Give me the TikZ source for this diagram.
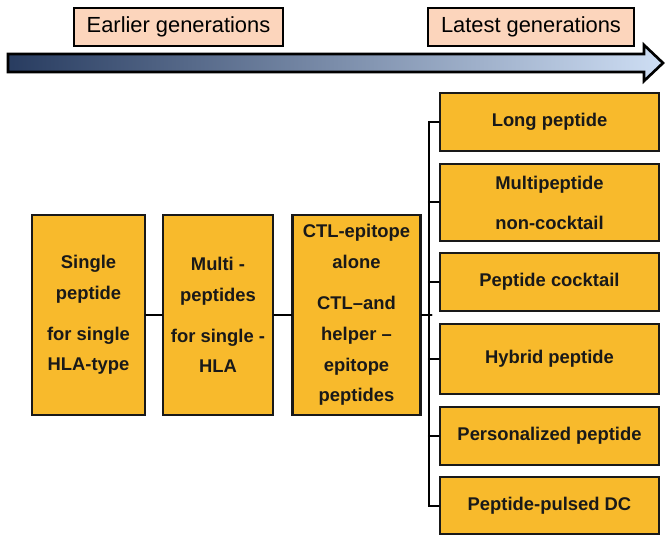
\documentclass[tikz,border=0pt]{standalone}
\usepackage{fontspec}
\setmainfont{Liberation Sans}
\usepackage{xcolor}
\usepackage{tikz}
\definecolor{gold}{RGB}{248,186,44}
\definecolor{peach}{RGB}{252,213,188}
\definecolor{navy}{RGB}{40,60,96}
\definecolor{skyblue}{RGB}{206,222,244}
\tikzstyle{gen} = [draw=black,line width=1.6pt,fill=peach,inner sep=0pt,minimum height=28.5pt,font=\fontsize{16.4}{20}\selectfont]
\tikzstyle{stage} = [draw=black!90,line width=1.8pt,fill=gold,inner sep=0pt,align=center,text=black!90,font=\bfseries\fontsize{13.8}{23}\selectfont]
\tikzstyle{kind} = [stage,minimum width=164.25pt]
\tikzstyle{link} = [line width=1.5pt]

\begin{document}
\begin{tikzpicture}[line cap=round,line join=miter,x=0.75pt,y=-0.75pt]
                \useasboundingbox (0,0) rectangle (667,538);
                \shade[left color=navy,right color=skyblue,draw=black,line width=2pt] (8,54) -- (644,54) -- (644,45) -- (663,63) -- (644,81) -- (644,72) -- (8,72) -- cycle;
                \node[gen,minimum width=156.75pt] (early) at (178.5,27) {Earlier generations};
                \node[gen,minimum width=154.5pt] (late) at (531,27) {Latest generations};
                \node[stage,minimum width=84.75pt,minimum height=150pt] (single) at (88.5,315) {Single\\peptide\\[7.5pt]for single\\HLA-type};
                \node[stage,minimum width=82.5pt,minimum height=150pt] (multi) at (218,315) {Multi -\\peptides\\[7.5pt]for single -\\HLA};
                \node[stage,minimum width=96pt,minimum height=150pt] (ctl) at (356.5,315) {CTL-epitope\\alone\\[8pt]CTL--and\\helper --\\epitope\\peptides};
                \node[kind,minimum height=43.5pt] (long) at (549.5,122) {Long peptide};
                \node[kind,minimum height=57.75pt] (noncock) at (549.5,202.5) {Multipeptide\\[7pt]non-cocktail};
                \node[kind,minimum height=43.5pt] (cocktail) at (549.5,282) {Peptide cocktail};
                \node[kind,minimum height=52.5pt] (hybrid) at (549.5,359) {Hybrid peptide};
                \node[kind,minimum height=43.5pt] (personal) at (549.5,436) {Personalized peptide};
                \node[kind,minimum height=42.75pt] (pulsed) at (549.5,505.5) {Peptide-pulsed DC};
                \draw[link] (single.east) -- (multi.west);
                \draw[link] (multi.east) -- (ctl.west);
                \draw[link] (ctl.east) -- ++(10,0);
                \draw[link] (long.west) -- ++(-10,0) |- (pulsed.west);
                \draw[link] (noncock.west) -- ++(-10,0);
                \draw[link] (cocktail.west) -- ++(-10,0);
                \draw[link] (hybrid.west) -- ++(-10,0);
                \draw[link] (personal.west) -- ++(-10,0);
            \end{tikzpicture}
\end{document}
